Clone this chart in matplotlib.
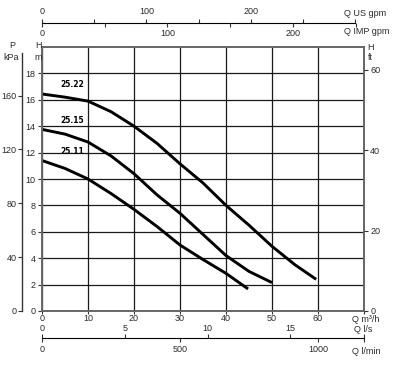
import matplotlib
matplotlib.use("Agg")
import matplotlib.pyplot as plt

plt.rcParams['font.family'] = ['Liberation Sans', 'DejaVu Sans']

# Pump curves, Q in m3/h, H in m
q_2522 = [0, 5, 10, 15, 20, 25, 30, 35, 40, 45, 50, 55, 59.6]
h_2522 = [16.44, 16.2, 15.9, 15.1, 14.0, 12.7, 11.15, 9.7, 8.0, 6.5, 4.9, 3.5, 2.4]
q_2515 = [0, 5, 10, 15, 20, 25, 30, 35, 40, 45, 50]
h_2515 = [13.76, 13.4, 12.8, 11.75, 10.4, 8.8, 7.4, 5.8, 4.2, 3.0, 2.15]
q_2511 = [0, 5, 10, 15, 20, 25, 30, 35, 40, 44.8]
h_2511 = [11.4, 10.8, 10.0, 8.9, 7.7, 6.4, 5.0, 3.9, 2.85, 1.67]
curve_names = ["25.22", "25.15", "25.11"]

# axis ticks
q_ticks = [0, 10, 20, 30, 40, 50, 60, 70]
h_ticks = [0, 2, 4, 6, 8, 10, 12, 14, 16, 18]
ft_ticks = [0, 20, 40, 60]
kpa_ticks = [0, 40, 80, 120, 160]
usgpm_ticks = [0, 100, 200, 300]
usgpm_minor = [50, 150, 250]
impgpm_ticks = [0, 100, 200]
impgpm_minor = [50, 150, 250]
ls_ticks = [0, 5, 10, 15]
lmin_ticks = [0, 500, 1000]

# unit conversions from m3/h and m
US_GPM = 4.40287
IMP_GPM = 3.66615
L_S = 1 / 3.6
L_MIN = 1000 / 60
FT = 3.28084
KPA = 9.80665

W, H = 403, 366
TXT = "#2a2a2a"
FS = 6.5
TICK = dict(length=3, width=0.8, color="#333333", labelsize=FS, labelcolor=TXT)

fig = plt.figure(figsize=(W / 100, H / 100), dpi=100)
ax = fig.add_axes([42 / W, 1 - 311 / H, 322 / W, 264 / H])
ax.set_xlim(0, 70)
ax.set_ylim(0, 20)
ax.set_xticks(q_ticks)
ax.set_xticklabels([str(t) for t in q_ticks[:-1]] + [""])
ax.set_yticks(h_ticks)
ax.grid(True, color="#1a1a1a", lw=0.9)
ax.set_axisbelow(True)
for s in ax.spines.values():
    s.set_color("#666666")
    s.set_linewidth(1.4)
ax.tick_params(axis="y", pad=1.5, **TICK)
ax.tick_params(axis="x", pad=0.3, **dict(TICK, length=2))

for q, h in [(q_2522, h_2522), (q_2515, h_2515), (q_2511, h_2511)]:
    ax.plot(q, h, color="black", lw=2.1, solid_capstyle="butt")
for name, h in zip(curve_names, [h_2522, h_2515, h_2511]):
    ax.text(6.6, h[0] + 0.35, name, fontsize=5.5, fontweight="bold",
            family=["Liberation Sans Narrow", "DejaVu Sans"],
            ha="center", va="bottom", color="black")

# right axis: ft
axr = ax.twinx()
axr.set_ylim(0, 20 * FT)
axr.set_yticks(ft_ticks)
axr.tick_params(axis="y", pad=1.5, **TICK)
for s in axr.spines.values():
    s.set_visible(False)
fig.canvas.draw()
axr.get_yticklabels()[0].set_verticalalignment("center_baseline")

# left outer axis: kPa (offset 20 px = 14.4 pt)
axp = ax.twinx()
axp.set_ylim(0, 20 * KPA)
axp.yaxis.tick_left()
axp.set_yticks(kpa_ticks)
for k in ["right", "top", "bottom"]:
    axp.spines[k].set_visible(False)
axp.spines["left"].set_position(("outward", 14.4))
axp.spines["left"].set_bounds(0, 192)
axp.spines["left"].set_color("#333333")
axp.spines["left"].set_linewidth(1.0)
axp.tick_params(axis="y", pad=1, **TICK)


def scale_axes(py):
    a = fig.add_axes([42 / W, 1 - py / H, 322 / W, 1e-4])
    a.patch.set_visible(False)
    a.set_yticks([])
    for s in a.spines.values():
        s.set_visible(False)
    return a


# top scales: US gpm above, IMP gpm below
axu = scale_axes(23)
axi = axu.twiny()
axi.patch.set_visible(False)
for s in axi.spines.values():
    s.set_visible(False)
axu.set_xlim(0, 70 * US_GPM)
axu.xaxis.tick_top()
axu.set_xticks(usgpm_ticks)
axu.set_xticklabels([str(t) for t in usgpm_ticks[:-1]] + [""])
axu.set_xticks(usgpm_minor, minor=True)
axu.spines["top"].set_visible(True)
axu.spines["top"].set_bounds(0, 300)
axu.tick_params(axis="x", which="both", pad=2, **TICK)
axi.set_xlim(0, 70 * IMP_GPM)
axi.xaxis.tick_bottom()
axi.set_xticks(impgpm_ticks)
axi.set_xticks(impgpm_minor, minor=True)
axi.tick_params(axis="x", which="both", pad=1, **TICK)

# bottom scales: l/s above, l/min below
axs = scale_axes(338)
axm = axs.twiny()
axm.patch.set_visible(False)
for s in axm.spines.values():
    s.set_visible(False)
axs.set_xlim(0, 70 * L_S)
axs.xaxis.tick_top()
axs.set_xticks(ls_ticks + [70 * L_S])
axs.set_xticklabels([str(t) for t in ls_ticks] + [""])
axs.spines["top"].set_visible(True)
axs.tick_params(axis="x", pad=0.5, **TICK)
axm.set_xlim(0, 70 * L_MIN)
axm.xaxis.tick_bottom()
axm.set_xticks(lmin_ticks + [70 * L_MIN])
axm.set_xticklabels([str(t) for t in lmin_ticks] + [""])
axm.tick_params(axis="x", pad=2, **TICK)


# unit labels
def label(px, py, s, ha="left"):
    fig.text(px / W, 1 - py / H, s, fontsize=FS, color=TXT, ha=ha, va="center")


label(386, 14, "Q US gpm", ha="right")
label(389, 32, "Q IMP gpm", ha="right")
label(379, 319, "Q m³/h", ha="right")
label(372, 330, "Q l/s", ha="right")
label(381, 351, "Q l/min", ha="right")
label(12, 46, "P", ha="center")
label(11, 57, "kPa", ha="center")
label(39, 46, "H", ha="center")
label(38, 58, "m", ha="center")
label(370, 47, "H", ha="center")
label(370, 58, "ft", ha="center")

fig.savefig("out.png", dpi=100)
